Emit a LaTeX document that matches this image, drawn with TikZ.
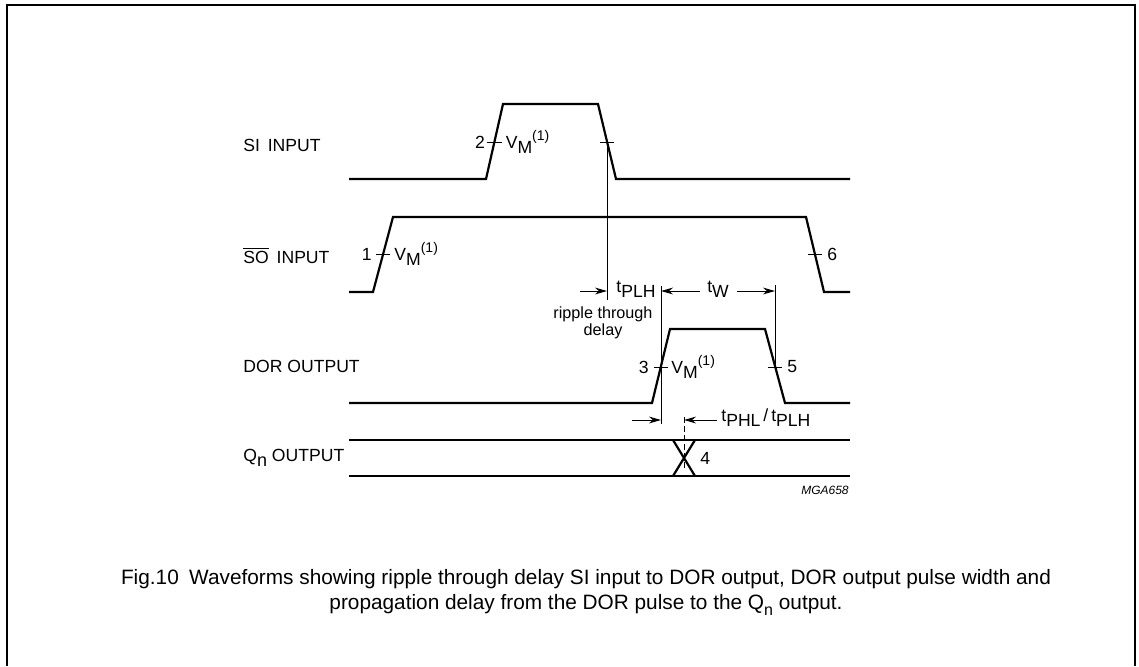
\documentclass[tikz,border=0pt]{standalone}
\usepackage{fontspec}
\setmainfont{Liberation Sans}
\usetikzlibrary{arrows.meta}
\newcommand{\dnidx}[1]{\raisebox{-0.55ex}{#1}}
\newcommand{\hiidx}[1]{\raisebox{0.85ex}{\scriptsize #1}}
\newcommand{\vmark}{V\dnidx{M}\hiidx{(1)}}

\tikzset{
  wave/.style={line width=1.1pt,line join=miter},
  guide/.style={line width=0.45pt},
  tickmark/.style={line width=0.5pt},
  dimarrow/.style={line width=0.5pt,-{Stealth[length=6pt,width=3.4pt]}},
  siglabel/.style={anchor=west,inner sep=0pt,font=\fontsize{8.8}{10}\selectfont},
  smalllabel/.style={inner sep=0pt,font=\fontsize{8.8}{10}\selectfont}
}

\begin{document}
\begin{tikzpicture}[x=0.5pt,y=-0.5pt]
  \useasboundingbox (0,0) rectangle (1139,666);
  % frame
  \draw[line width=0.6pt] (7,666) -- (7,5) -- (1135,5) -- (1135,666);

  % signal names
  \node[siglabel] (si)  at (243,145) {SI\, INPUT};
  \node[siglabel] (so)  at (243,255) {$\overline{\mbox{SO}}$\, INPUT};
  \node[siglabel] (dor) at (243,366) {DOR OUTPUT};
  \node[siglabel] (qn)  at (243,458) {Q\dnidx{\small n} OUTPUT};

  % waveforms
  \draw[wave] (349,179) -- (486,179) -- (503,104) -- (598,104) -- (616,179) -- (850,179);
  \draw[wave] (349,292) -- (373,292) -- (393,217) -- (806,217) -- (824,292) -- (850,292);
  \draw[wave] (349,403) -- (652,403) -- (670,329) -- (765,329) -- (785,403) -- (850,403);
  \draw[wave] (349,440) -- (850,440) (349,476) -- (850,476);
  \draw[wave] (673,440) -- (695,476) (673,476) -- (695,440);

  % measuring points
  \coordinate (sir)  at (494.4,142);
  \coordinate (sif)  at (607,142);
  \coordinate (sor)  at (383,254);
  \coordinate (sof)  at (815,254);
  \coordinate (dorr) at (661,367);
  \coordinate (dorf) at (775,367);
  \coordinate (qx)   at (684,458);
  \foreach \p in {sir,sif,sor,sof,dorr,dorf}
    \draw[tickmark] ([xshift=-3.6pt]\p) -- ([xshift=3.6pt]\p);

  \node[smalllabel,anchor=east] (n2) at ([xshift=-4.5pt]sir) {2};
  \node[smalllabel,anchor=west] (vm2) at ([xshift=5.5pt]sir) {\vmark};
  \node[smalllabel,anchor=east] (n1) at ([xshift=-5.5pt]sor) {1};
  \node[smalllabel,anchor=west] (vm1) at ([xshift=5.5pt]sor) {\vmark};
  \node[smalllabel,anchor=west] (n6) at ([xshift=6pt]sof) {6};
  \node[smalllabel,anchor=east] (n3) at ([xshift=-6pt]dorr) {3};
  \node[smalllabel,anchor=west] (vm3) at ([xshift=5pt]dorr) {\vmark};
  \node[smalllabel,anchor=west] (n5) at ([xshift=6pt]dorf) {5};
  \node[smalllabel,anchor=west] (n4) at ([xshift=8pt]qx) {4};

  % guide lines
  \coordinate (sifb)  at (607,300);
  \coordinate (dorrt) at (661,286);
  \coordinate (dorrb) at (661,424);
  \coordinate (dorft) at (775,285);
  \coordinate (qxt)   at (684,417);
  \coordinate (qxb)   at (684,471);
  \draw[guide] (sif) -- (sifb);
  \draw[guide] (dorrt) -- (dorrb);
  \draw[guide] (dorft) -- (dorf);
  \draw[guide,dash pattern=on 3pt off 1.5pt] (qxt) -- (qxb);

  % timing arrows
  \coordinate (plhs) at (580,291);
  \coordinate (plhe) at (607,291);
  \coordinate (tws)  at (700,291);
  \coordinate (twe)  at (661,291);
  \coordinate (tws2) at (737,291);
  \coordinate (twe2) at (775,291);
  \coordinate (phls) at (632,420);
  \coordinate (phle) at (661,420);
  \coordinate (phrs) at (717,420);
  \coordinate (phre) at (684,420);
  \draw[dimarrow] (plhs) -- (plhe);
  \draw[dimarrow] (tws) -- (twe);
  \draw[dimarrow] (tws2) -- (twe2);
  \draw[dimarrow] (phls) -- (phle);
  \draw[dimarrow] (phrs) -- (phre);

  \node[smalllabel,anchor=west] (tplh) at (616,289) {t\dnidx{PLH}};
  \node[smalllabel] (tw) at (718,289) {t\dnidx{W}};
  \node[smalllabel,align=center,font=\fontsize{8.1}{8.6}\selectfont] (ripple) at (603,323)
    {ripple through\\delay};
  \node[smalllabel,anchor=west] (tphl) at (721,418) {t\dnidx{PHL}\,/\,t\dnidx{PLH}};
  \node[anchor=east,inner sep=0pt,font=\fontsize{6}{7}\selectfont\itshape] (ref) at (849,490) {MGA658};

  % caption
  \node[align=center,inner sep=0pt,font=\fontsize{10.4}{12.5}\selectfont] (caption) at (586,592)
    {Fig.10\enspace Waveforms showing ripple through delay SI input to DOR output, DOR output pulse width and\\
     propagation delay from the DOR pulse to the Q\dnidx{\footnotesize n} output.};
\end{tikzpicture}
\end{document}
